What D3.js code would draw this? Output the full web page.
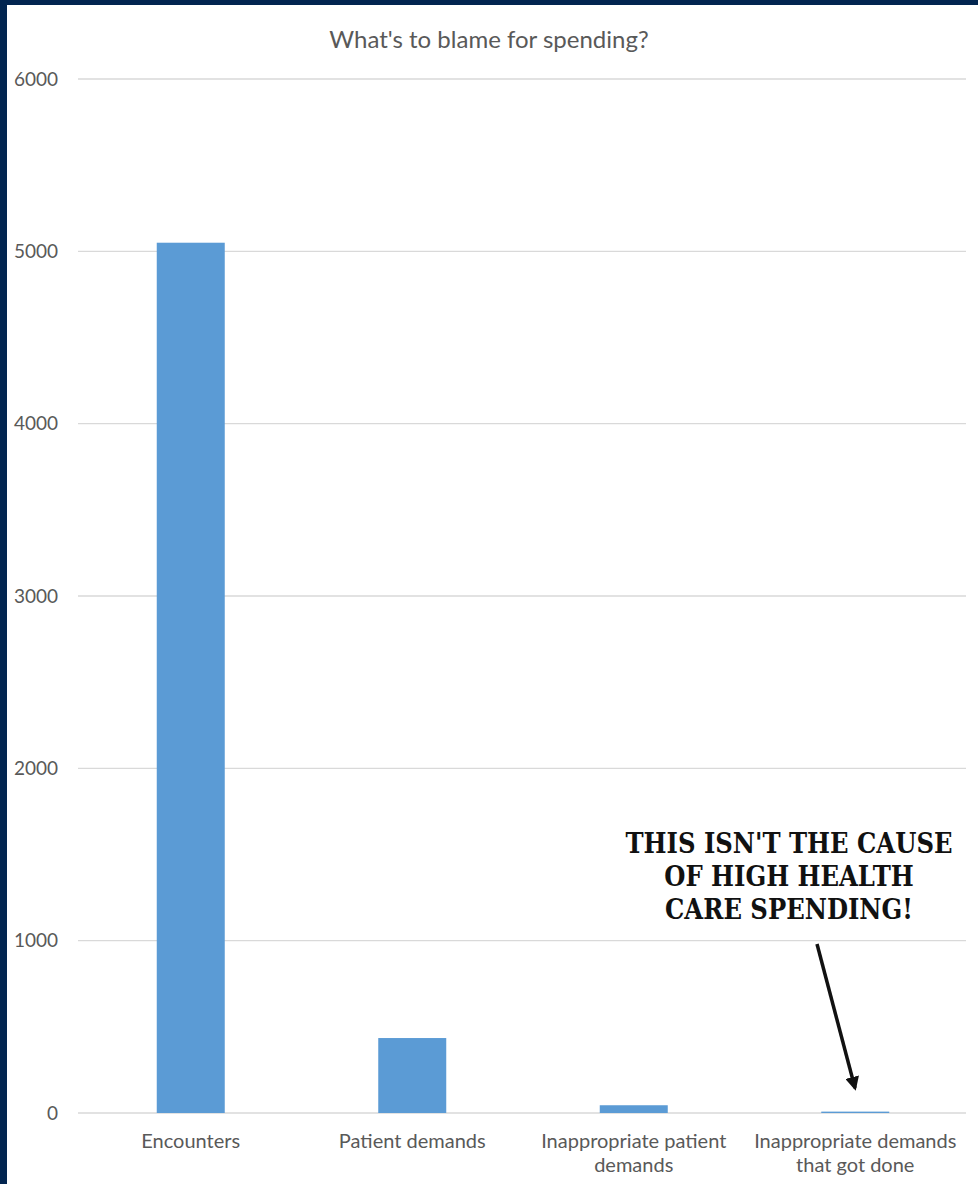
<!DOCTYPE html>
<html>
<head>
<meta charset="utf-8">
<script src="https://cdn.jsdelivr.net/npm/d3@7"></script>
<style>
  html, body { margin: 0; padding: 0; background: #fff; }
  svg { display: block; }
</style>
</head>
<body>
<div class="chart"></div>
<script>
const categories = [
    ["Encounters"],
    ["Patient demands"],
    ["Inappropriate patient", "demands"],
    ["Inappropriate demands", "that got done"]
];
const values = [5050, 435, 45, 8];
const yTicks = [0, 1000, 2000, 3000, 4000, 5000, 6000];
const title = "What's to blame for spending?";
const note = ["THIS ISN'T THE CAUSE", "OF HIGH HEALTH", "CARE SPENDING!"];

const width = 978, height = 1184;
const textColor = "#595959", gridColor = "#d9d9d9", barColor = "#5b9bd5";

const svg = d3.select(".chart").append("svg")
    .attr("width", width)
    .attr("height", height);

svg.append("rect")
    .attr("width", width).attr("height", height)
    .attr("fill", "#fff");

// navy frame on top and left
svg.append("rect").attr("x", 0).attr("y", 0).attr("width", width).attr("height", 5).attr("fill", "#022550");
svg.append("rect").attr("x", 0).attr("y", 0).attr("width", 7).attr("height", height).attr("fill", "#022550");

const y = d3.scaleLinear()
    .domain([0, 6000])
    .range([1113, 79]);

const x = d3.scaleBand()
    .domain(categories.map(d => d.join(" ")))
    .range([80, 966])
    .padding(0);

const barW = x.bandwidth() * 0.307;

// gridlines
svg.append("g")
    .attr("class", "grid")
    .selectAll("line")
    .data(yTicks)
    .enter().append("line")
    .attr("x1", 78).attr("x2", 966)
    .attr("y1", d => y(d)).attr("y2", d => y(d))
    .attr("stroke", gridColor)
    .attr("stroke-width", 1.3);

// y axis labels
const yAxis = d3.axisLeft(y)
    .tickValues(yTicks)
    .tickFormat(d3.format("d"))
    .tickSize(0)
    .tickPadding(0);

svg.append("g")
    .attr("class", "y axis")
    .attr("transform", "translate(58,0)")
    .call(yAxis)
    .call(g => g.select(".domain").remove())
    .selectAll("text")
    .attr("fill", textColor)
    .style("font-family", "Lato, sans-serif")
    .style("font-size", "19px");

// bars
svg.append("g")
    .attr("class", "bars")
    .selectAll("rect")
    .data(values)
    .enter().append("rect")
    .attr("x", (d, i) => x(categories[i].join(" ")) + (x.bandwidth() - barW) / 2)
    .attr("width", barW)
    .attr("y", d => y(d))
    .attr("height", d => y(0) - y(d))
    .attr("fill", barColor);

// category labels
const xl = svg.append("g")
    .attr("class", "x axis")
    .selectAll("text")
    .data(categories)
    .enter().append("text")
    .attr("x", d => x(d.join(" ")) + x.bandwidth() / 2)
    .attr("y", 1148)
    .attr("text-anchor", "middle")
    .attr("fill", textColor)
    .style("font-family", "Lato, sans-serif")
    .style("font-size", "20px");

xl.selectAll("tspan")
    .data(d => d)
    .enter().append("tspan")
    .attr("x", function() { return this.parentNode.getAttribute("x"); })
    .attr("dy", (d, i) => i === 0 ? 0 : 24)
    .text(d => d);

// title
svg.append("text")
    .attr("x", 489)
    .attr("y", 48)
    .attr("text-anchor", "middle")
    .attr("fill", textColor)
    .style("font-family", "Lato, sans-serif")
    .style("font-size", "24px")
    .text(title);

// annotation
svg.append("g")
    .attr("class", "note")
    .selectAll("text")
    .data(note)
    .enter().append("text")
    .attr("x", 789)
    .attr("y", (d, i) => 853 + i * 33)
    .attr("text-anchor", "middle")
    .attr("fill", "#111")
    .style("font-family", "'DejaVu Serif Condensed', 'DejaVu Serif', serif")
    .style("font-weight", "bold")
    .style("font-size", "27px")
    .text(d => d);

svg.append("defs").append("marker")
    .attr("id", "head")
    .attr("viewBox", "0 0 10 10")
    .attr("refX", 8).attr("refY", 5)
    .attr("markerWidth", 4).attr("markerHeight", 4)
    .attr("orient", "auto")
    .append("path")
    .attr("d", "M0,0 L10,5 L0,10 Z")
    .attr("fill", "#111");

svg.append("line")
    .attr("x1", 817).attr("y1", 944)
    .attr("x2", 855).attr("y2", 1088)
    .attr("stroke", "#111")
    .attr("stroke-width", 3.5)
    .attr("marker-end", "url(#head)");
</script>
</body>
</html>
